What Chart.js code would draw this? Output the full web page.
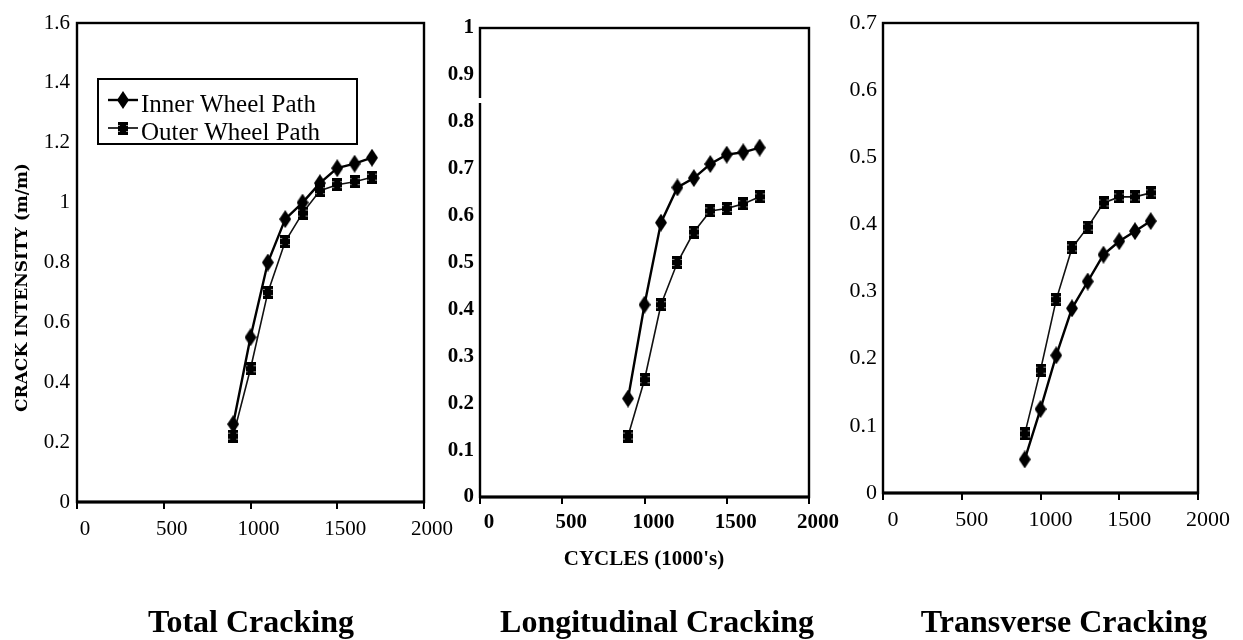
<!DOCTYPE html>
<html>
<head>
<meta charset="utf-8">
<script src="https://cdn.jsdelivr.net/npm/chart.js@4.4.1/dist/chart.umd.min.js"></script>
<style>
  html, body { margin: 0; padding: 0; background: #fff; }
  #wrap { position: relative; width: 1243px; height: 640px; overflow: hidden; background: #fff; }
  #wrap canvas { position: absolute; left: 0; top: 0; }
  .txt { position: absolute; white-space: nowrap; color: #000; font-weight: bold; }
  .title { font-family: "Liberation Serif", serif; font-size: 32px; line-height: 32px; top: 605px; transform: translateX(-50%); }
  #xtitle { font-family: "Liberation Serif", serif; font-size: 21px; line-height: 21px; left: 644px; top: 548px; transform: translateX(-50%); }
  #ytitle { font-family: "DejaVu Serif", serif; font-size: 17px; line-height: 17px; left: 13px; top: 412px; transform-origin: 0 0; transform: rotate(-90deg); }
</style>
</head>
<body>
<div id="wrap">
  <canvas id="total" width="1243" height="640"></canvas>
  <canvas id="longitudinal" width="1243" height="640"></canvas>
  <canvas id="transverse" width="1243" height="640"></canvas>
  <div class="txt" id="ytitle">CRACK INTENSITY (m/m)</div>
  <div class="txt" id="xtitle">CYCLES (1000's)</div>
  <div class="txt title" style="left:251px">Total Cracking</div>
  <div class="txt title" style="left:657px">Longitudinal Cracking</div>
  <div class="txt title" style="left:1064px">Transverse Cracking</div>
</div>
<script>
// Load cycles (thousands) at which crack intensity was surveyed
const cycles = [900, 1000, 1100, 1200, 1300, 1400, 1500, 1600, 1700];

// Crack intensity (m/m) per wheel path
const totalInner = [0.26, 0.55, 0.80, 0.945, 1.00, 1.065, 1.115, 1.13, 1.15];
const totalOuter = [0.22, 0.445, 0.70, 0.87, 0.965, 1.04, 1.06, 1.07, 1.085];
const longInner  = [0.21, 0.41, 0.585, 0.66, 0.68, 0.71, 0.73, 0.735, 0.745];
const longOuter  = [0.13, 0.25, 0.41, 0.50, 0.565, 0.61, 0.615, 0.625, 0.64];
const transInner = [0.05, 0.125, 0.205, 0.275, 0.315, 0.355, 0.375, 0.39, 0.405];
const transOuter = [0.088, 0.183, 0.288, 0.365, 0.396, 0.432, 0.441, 0.441, 0.447];

const seriesNames = ['Inner Wheel Path', 'Outer Wheel Path'];

// Axis ranges and tick steps
const xTicks = { min: 0, max: 2000, step: 500 };
const totalAxis = { max: 1.6, step: 0.2 };
const longAxis  = { max: 1.0, step: 0.1 };
const transAxis = { max: 0.7, step: 0.1 };

// Marker glyphs: tall filled diamond and filled block
function diamondMarker() {
  const c = document.createElement('canvas');
  c.width = 12; c.height = 18;
  const g = c.getContext('2d');
  g.fillStyle = '#000';
  g.beginPath();
  g.moveTo(6, 0); g.lineTo(12, 9); g.lineTo(6, 18); g.lineTo(0, 9);
  g.closePath(); g.fill();
  return c;
}
function blockMarker() {
  const c = document.createElement('canvas');
  c.width = 10; c.height = 13;
  const g = c.getContext('2d');
  g.fillStyle = '#000';
  g.fillRect(0, 0, 10, 13);
  g.fillStyle = 'rgba(255,255,255,0.55)';
  g.fillRect(0, 3, 2, 1); g.fillRect(8, 3, 2, 1);
  g.fillRect(0, 9, 2, 1); g.fillRect(8, 9, 2, 1);
  return c;
}
const diamond = diamondMarker();
const block = blockMarker();

// Box around the plot area, with an optional break in the left edge
const frame = {
  id: 'frame',
  beforeDatasetsDraw(chart, args, o) {
    const a = chart.chartArea, ctx = chart.ctx;
    ctx.save();
    ctx.strokeStyle = '#000';
    ctx.lineWidth = o.width;
    ctx.strokeRect(a.left, a.top, a.right - a.left, a.bottom - a.top);
    ctx.lineWidth = o.width + 0.8;
    ctx.beginPath(); ctx.moveTo(a.left - 1, a.bottom); ctx.lineTo(a.right + 1, a.bottom); ctx.stroke();
    if (o.gap) {
      ctx.strokeStyle = '#fff';
      ctx.lineWidth = o.width + 2;
      ctx.beginPath(); ctx.moveTo(a.left, o.gap[0]); ctx.lineTo(a.left, o.gap[1]); ctx.stroke();
    }
    ctx.restore();
  }
};

// Legend drawn inside the plot area
const insetLegend = {
  id: 'insetLegend',
  afterDraw(chart, args, o) {
    if (!o.show) return;
    const ctx = chart.ctx;
    ctx.save();
    ctx.strokeStyle = '#000';
    ctx.fillStyle = '#000';
    ctx.lineWidth = 2;
    ctx.strokeRect(o.x, o.y, o.w, o.h);
    ctx.font = o.font;
    ctx.textBaseline = 'alphabetic';
    chart.data.datasets.forEach((ds, i) => {
      const y = o.y + o.first + i * o.step;
      ctx.lineWidth = ds.borderWidth;
      ctx.beginPath(); ctx.moveTo(o.x0, y); ctx.lineTo(o.x1, y); ctx.stroke();
      const img = ds.pointStyle;
      ctx.drawImage(img, Math.round((o.x0 + o.x1) / 2 - img.width / 2), Math.round(y - img.height / 2));
      ctx.fillText(ds.label, o.textX, y + o.textDy);
    });
    ctx.restore();
  }
};

function points(values) {
  return cycles.map((c, i) => ({ x: c, y: values[i] }));
}

function makePanel(id, inner, outer, yAxis, area, style) {
  const W = 1243, H = 640;
  return new Chart(document.getElementById(id), {
    type: 'line',
    data: {
      datasets: [
        { label: seriesNames[0], data: points(inner), borderColor: '#000', backgroundColor: '#000',
          borderWidth: 2.4, pointStyle: diamond, pointRadius: 6, tension: 0 },
        { label: seriesNames[1], data: points(outer), borderColor: '#111', backgroundColor: '#111',
          borderWidth: 1.6, pointStyle: block, pointRadius: 6, tension: 0 }
      ]
    },
    options: {
      responsive: false,
      animation: false,
      devicePixelRatio: 1,
      layout: { padding: { left: 0, top: area.top, right: W - area.right, bottom: 0 } },
      plugins: {
        legend: { display: false },
        tooltip: { enabled: false },
        frame: { width: 2.4, gap: style.gap || null },
        insetLegend: style.legend || { show: false }
      },
      scales: {
        x: {
          type: 'linear',
          min: xTicks.min, max: xTicks.max,
          afterFit: s => { s.height = H - area.bottom; },
          border: { display: false },
          grid: { drawOnChartArea: false, drawTicks: true, tickLength: 7, color: '#000', lineWidth: 2 },
          ticks: {
            stepSize: xTicks.step, autoSkip: false, maxRotation: 0,
            padding: style.xPad, labelOffset: style.labelOffset,
            color: '#000', font: style.font,
            callback: v => String(v)
          }
        },
        y: {
          type: 'linear',
          min: 0, max: yAxis.max,
          afterFit: s => { s.width = area.left; },
          border: { display: false },
          grid: { display: false, drawTicks: false },
          ticks: {
            stepSize: yAxis.step, autoSkip: false,
            padding: style.yPad,
            color: '#000', font: style.font,
            callback: v => String(parseFloat(Number(v).toFixed(2)))
          }
        }
      }
    },
    plugins: [frame, insetLegend]
  });
}

const serif = '"Liberation Serif", serif';

makePanel('total', totalInner, totalOuter, totalAxis,
  { left: 77, right: 424, top: 23, bottom: 502 },
  { font: { family: serif, size: 21 }, xPad: 8, yPad: 7, labelOffset: 8,
    legend: { show: true, x: 98, y: 79, w: 259, h: 65, first: 21, step: 28,
              x0: 108, x1: 138, textX: 141, textDy: 11.5, font: '25px "Liberation Serif", serif' } });

makePanel('longitudinal', longInner, longOuter, longAxis,
  { left: 480, right: 809, top: 28, bottom: 497 },
  { font: { family: serif, size: 21, weight: 'bold' }, xPad: 6, yPad: 6, labelOffset: 9,
    gap: [98, 103] });

makePanel('transverse', transInner, transOuter, transAxis,
  { left: 883, right: 1198, top: 23, bottom: 493 },
  { font: { family: serif, size: 22 }, xPad: 7, yPad: 6, labelOffset: 10 });
</script>
</body>
</html>
